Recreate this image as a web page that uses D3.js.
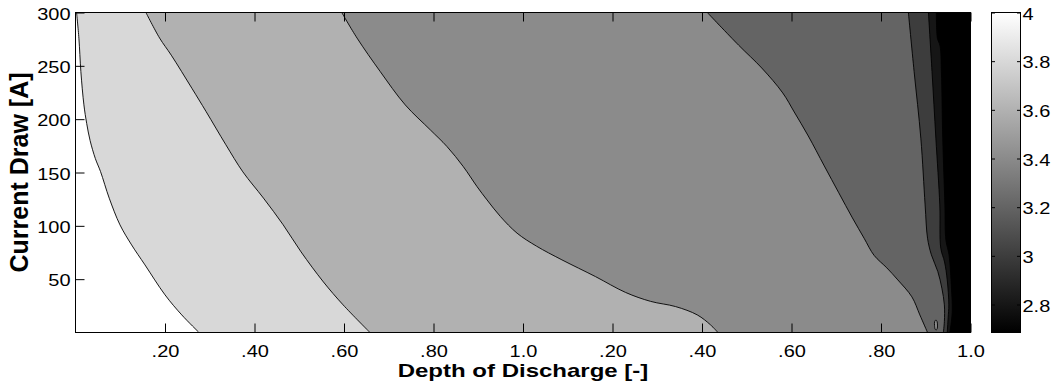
<!DOCTYPE html>
<html>
<head>
<meta charset="utf-8">
<script src="https://cdn.jsdelivr.net/npm/d3@7"></script>
<style>
  html, body { margin: 0; padding: 0; background: #fff; }
  svg { display: block; font-family: "Liberation Sans", Arial, Helvetica, sans-serif; }
</style>
</head>
<body>
<svg id="chart" width="1052" height="390"></svg>
<script>
// Cell voltage over depth of discharge and current draw (filled contour map).
// Contour lines are listed as [depth of discharge, current draw] pairs, from 300 A down to 0 A.

const colorLimits = [2.685, 4.0];
const contourLevels = [4.0, 3.8, 3.6, 3.4, 3.2, 3.0, 2.8];

const contour4_0 = [[0.0012,300],[0.0038,275.9],[0.006,244.6],[0.0094,213.4],[0.0125,196],[0.0163,180],
  [0.0222,163],[0.028,150.8],[0.0377,125.9],[0.0497,100.9],[0.0627,82.1],[0.0776,63.4],[0.100,35.3],
  [0.1187,16.5],[0.138,0]];

const contour3_8 = [[0.0787,300],[0.094,276],[0.107,260],[0.130,229],[0.146,207],[0.168,176],[0.187,150.6],
  [0.210,126],[0.232,101],[0.252,75.6],[0.277,47.4],[0.299,25.9],[0.329,0]];

const contour3_6 = [[0.2975,300],[0.3146,276],[0.3405,244.6],[0.3684,213.4],[0.3964,190],[0.4151,174.3],
  [0.4333,155.5],[0.4487,136.7],[0.4598,124.3],[0.4748,108.7],[0.4934,93.1],[0.5150,81],[0.5435,68.1],
  [0.581,52.4],[0.6145,37.6],[0.6425,29.2],[0.6705,24.3],[0.6947,16.5],[0.7096,7.1],[0.7178,0]];

const contour3_4 = [[0.7059,300],[0.7410,269.3],[0.7667,248],[0.7902,224.6],[0.8030,206.8],[0.8187,184.3],
  [0.8366,156.2],[0.8528,131],[0.8681,107.4],[0.8811,88.4],[0.8923,72.3],[0.9065,60.6],[0.9188,49.3],
  [0.9345,33.4],[0.9434,16.5],[0.9520,0]];

const contour3_2 = [[0.9306,300],[0.937,244.6],[0.9445,182.2],[0.9493,119.6],[0.952,88.4],[0.9563,72.8],
  [0.9635,57.1],[0.968,41.5],[0.9708,25.9],[0.9708,10.2],[0.9697,0]];

const contour3_0 = [[0.953,300],[0.957,244.6],[0.9613,182.2],[0.9657,119.6],[0.9668,79],[0.971,66.2],
  [0.974,49.3],[0.9758,25.9],[0.975,13.7],[0.974,0]];

const contour2_8 = [[0.9619,300],[0.963,276],[0.966,268.7],[0.9675,244.6],[0.969,182.2],[0.9714,119.6],
  [0.9725,86.8],[0.976,72.8],[0.9787,41.8],[0.9796,19.3],[0.977,0]];

// small closed 3.4 V loop near the bottom
const island3_4 = [[0.9613,11.8],[0.9626,10.4],[0.9631,7],[0.9628,3.6],[0.9617,2.4],[0.9605,3.1],
  [0.9598,6.6],[0.9600,10.3],[0.9613,11.8]];

const xTickValues = [0.1,0.2,0.3,0.4,0.5,0.6,0.7,0.8,0.9,1.0];
const xTickLabels = [".20",".40",".60",".80","1.0",".20",".40",".60",".80","1.0"];
const yTickValues = [50,100,150,200,250,300];
const cbTickValues = [2.8,3.0,3.2,3.4,3.6,3.8,4.0];
const cbTickLabels = ["2.8","3","3.2","3.4","3.6","3.8","4"];

const contourLines = [contour4_0, contour3_8, contour3_6, contour3_4, contour3_2, contour3_0, contour2_8];

// ---- layout ----
const plot = { left: 75.5, right: 970.5, top: 12.5, bottom: 332.5 };
const bar = { left: 991.5, right: 1020.5 };

const svg = d3.select("#chart");

const x = d3.scaleLinear().domain([0, 1]).range([plot.left, plot.right]);
const y = d3.scaleLinear().domain([0, 300]).range([plot.bottom, plot.top]);
const gray = d3.scaleLinear().domain(colorLimits).range(["#000000", "#ffffff"]).clamp(true);
const cbY = d3.scaleLinear().domain(colorLimits).range([plot.bottom, plot.top]);

svg.append("defs").append("clipPath").attr("id", "plotClip")
  .append("rect")
  .attr("x", plot.left).attr("y", plot.top)
  .attr("width", plot.right - plot.left).attr("height", plot.bottom - plot.top);

const area = svg.append("g").attr("clip-path", "url(#plotClip)");

const line = d3.line().x(d => x(d[0])).y(d => y(d[1])).curve(d3.curveCatmullRom.alpha(0.5));

// region below the lowest level
area.append("rect")
  .attr("x", plot.left).attr("y", plot.top)
  .attr("width", plot.right - plot.left).attr("height", plot.bottom - plot.top)
  .attr("fill", gray(colorLimits[0]));

// each level paints the area to its left (higher voltage) with that level's grey
for (let i = contourLevels.length - 1; i >= 0; i--) {
  const pts = contourLines[i];
  const d = line(pts) +
    `L${x(pts[pts.length - 1][0])},${y(-20)}L${x(-0.05)},${y(-20)}L${x(-0.05)},${y(320)}L${x(pts[0][0])},${y(320)}Z`;
  area.append("path").attr("d", d).attr("fill", gray(contourLevels[i]));
}

area.append("path")
  .attr("d", line(island3_4) + "Z")
  .attr("fill", gray(3.4));

// contour lines
contourLines.forEach(pts => {
  area.append("path").attr("d", line(pts))
    .attr("fill", "none").attr("stroke", "#000").attr("stroke-width", 0.9);
});
area.append("path").attr("d", line(island3_4) + "Z")
  .attr("fill", "none").attr("stroke", "#000").attr("stroke-width", 0.9);

// ---- axes ----
const tickLen = 9;

const xAxis = svg.append("g")
  .attr("transform", `translate(0,${plot.bottom})`)
  .call(d3.axisBottom(x).tickValues(xTickValues)
    .tickFormat((d, i) => xTickLabels[i]).tickSizeInner(-tickLen).tickSizeOuter(0));
svg.append("g")
  .attr("transform", `translate(0,${plot.top})`)
  .call(d3.axisTop(x).tickValues(xTickValues).tickFormat("").tickSizeInner(-tickLen).tickSizeOuter(0));

const yAxis = svg.append("g")
  .attr("transform", `translate(${plot.left},0)`)
  .call(d3.axisLeft(y).tickValues(yTickValues).tickSizeInner(-tickLen).tickSizeOuter(0).tickPadding(5));
svg.append("g")
  .attr("transform", `translate(${plot.right},0)`)
  .call(d3.axisRight(y).tickValues(yTickValues).tickFormat("").tickSizeInner(-tickLen).tickSizeOuter(0));

svg.selectAll(".domain").remove();
svg.selectAll(".tick line").attr("stroke", "#000");

xAxis.selectAll("text")
  .attr("y", 0).attr("dy", null)
  .attr("transform", "translate(0,24.5) scale(1,0.8)")
  .attr("font-size", 20).attr("fill", "#000");

yAxis.selectAll("text")
  .attr("y", 0).attr("dy", null)
  .attr("transform", "translate(0,6.6) scale(1,0.82)")
  .attr("font-size", 20).attr("fill", "#000");

// plot frame
svg.append("rect")
  .attr("x", plot.left).attr("y", plot.top)
  .attr("width", plot.right - plot.left).attr("height", plot.bottom - plot.top)
  .attr("fill", "none").attr("stroke", "#000").attr("stroke-width", 1);

// ---- colorbar ----
const grad = svg.select("defs").append("linearGradient")
  .attr("id", "grayRamp").attr("x1", 0).attr("y1", 1).attr("x2", 0).attr("y2", 0);
grad.append("stop").attr("offset", "0%").attr("stop-color", gray(colorLimits[0]));
grad.append("stop").attr("offset", "100%").attr("stop-color", gray(colorLimits[1]));

svg.append("rect")
  .attr("x", bar.left).attr("y", plot.top)
  .attr("width", bar.right - bar.left).attr("height", plot.bottom - plot.top)
  .attr("fill", "url(#grayRamp)");

const cbAxis = svg.append("g")
  .attr("transform", `translate(${bar.right},0)`)
  .call(d3.axisRight(cbY).tickValues(cbTickValues)
    .tickFormat((d, i) => cbTickLabels[i]).tickSizeInner(-3.5).tickSizeOuter(0).tickPadding(2));
svg.append("g")
  .attr("transform", `translate(${bar.left},0)`)
  .call(d3.axisLeft(cbY).tickValues(cbTickValues).tickFormat("").tickSizeInner(-3.5).tickSizeOuter(0));

svg.selectAll(".domain").remove();
svg.selectAll(".tick line").attr("stroke", "#000");

cbAxis.selectAll("text")
  .attr("y", 0).attr("dy", null)
  .attr("transform", "translate(0,6.6) scale(1,0.82)")
  .attr("font-size", 20).attr("fill", "#000");

svg.append("rect")
  .attr("x", bar.left).attr("y", plot.top)
  .attr("width", bar.right - bar.left).attr("height", plot.bottom - plot.top)
  .attr("fill", "none").attr("stroke", "#000").attr("stroke-width", 1);

// ---- axis titles ----
svg.append("text")
  .attr("transform", `translate(${(plot.left + plot.right) / 2},377) scale(1,0.775)`)
  .attr("text-anchor", "middle")
  .attr("font-size", 24).attr("font-weight", "bold").attr("fill", "#000")
  .text("Depth of Discharge [-]");

svg.append("text")
  .attr("transform", `translate(28,${(plot.top + plot.bottom) / 2}) rotate(-90)`)
  .attr("text-anchor", "middle")
  .attr("font-size", 25).attr("font-weight", "bold").attr("fill", "#000")
  .text("Current Draw [A]");
</script>
</body>
</html>
